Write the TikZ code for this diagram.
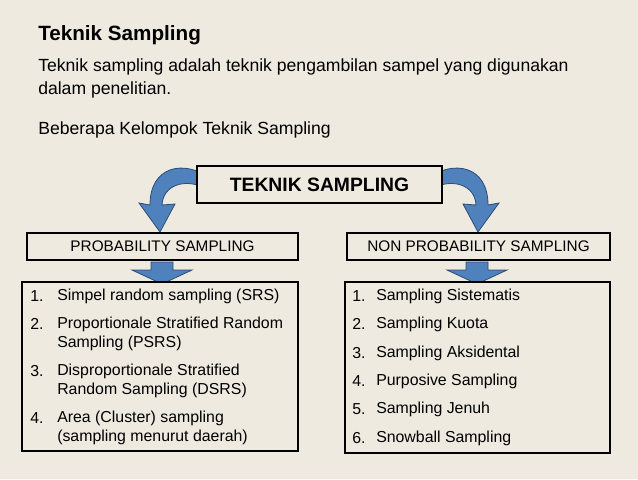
\documentclass[tikz,border=0pt]{standalone}
\usepackage{fontspec}
\setmainfont{Liberation Sans}
\begin{document}
\begin{tikzpicture}[x=0.75pt,y=-0.75pt,
  every node/.style={inner sep=0pt},
  bx/.style={draw=black,line width=0.9pt,fill=bgc},
  txt/.style={anchor=west,font=\fontsize{13.2}{15}\selectfont},
  li/.style={anchor=west,font=\fontsize{11.9}{14}\selectfont},
  barrow/.style={fill=arrb,draw=arrd,line width=0.6pt}]
\definecolor{bgc}{HTML}{EEEAE0}
\definecolor{arrb}{HTML}{4F81BD}
\definecolor{arrd}{HTML}{2C4D75}
\fill[bgc] (0,0) rectangle (638,479);
\useasboundingbox (0,0) rectangle (638,479);
\node[anchor=west,font=\bfseries\fontsize{15.5}{18}\selectfont] (title) at (38,35) {Teknik Sampling};
\node[txt] (l1) at (38,67) {Teknik sampling adalah teknik pengambilan sampel yang digunakan};
\node[txt] (l2) at (38,90) {dalam penelitian.};
\node[txt] (l3) at (38,130) {Beberapa Kelompok Teknik Sampling};
% curved arrows
\path[barrow] (210,178) .. controls (185,160) and (150,165) .. (150,205) -- (139,203) -- (160,232) -- (175,204) -- (162,205) .. controls (163,185) and (185,178) .. (205,188) -- cycle;
\begin{scope}[xshift=638*0.75pt,xscale=-1]
\path[barrow] (210,178) .. controls (185,160) and (150,165) .. (150,205) -- (139,203) -- (160,232) -- (175,204) -- (162,205) .. controls (163,185) and (185,178) .. (205,188) -- cycle;
\end{scope}
\node[bx,minimum width=245*0.75pt,minimum height=37*0.75pt,font=\bfseries\fontsize{14.5}{17}\selectfont] (top) at (319.5,184.5) {TEKNIK SAMPLING};
\node[bx,minimum width=271*0.75pt,minimum height=27*0.75pt,font=\fontsize{11.5}{13}\selectfont] (prob) at (162.5,246.5) {PROBABILITY SAMPLING};
\node[bx,minimum width=263*0.75pt,minimum height=27*0.75pt,font=\fontsize{11.5}{13}\selectfont] (nprob) at (478.5,246.5) {NON PROBABILITY SAMPLING};
% block arrows down
\path[barrow] (151,262) -- (173,262) -- (173,270) -- (192,270) -- (162,284) -- (132,270) -- (151,270) -- cycle;
\path[barrow] (466,262) -- (488,262) -- (488,270) -- (507,270) -- (477,284) -- (447,270) -- (466,270) -- cycle;
\node[bx,minimum width=276*0.75pt,minimum height=169*0.75pt] (lbox) at (160,366.5) {};
\node[bx,minimum width=265*0.75pt,minimum height=171*0.75pt] (rbox) at (477.5,367.5) {};
\foreach \n/\y/\t in {1./296/Simpel random sampling (SRS),
 2./324/Proportionale Stratified Random,/343/Sampling (PSRS),
 3./371/Disproportionale Stratified,/390/Random Sampling (DSRS),
 4./418/Area (Cluster) sampling,/437/(sampling menurut daerah)}{
 \node[li] at (30,\y) {\n}; \node[li] at (57,\y) {\t};}
\foreach \n/\y/\t in {1./296/Sampling Sistematis,2./324/Sampling Kuota,3./353/Sampling Aksidental,4./381/Purposive Sampling,5./409/Sampling Jenuh,6./438/Snowball Sampling}{
 \node[li] at (352,\y) {\n}; \node[li] at (376,\y) {\t};}
\end{tikzpicture}
\end{document}
